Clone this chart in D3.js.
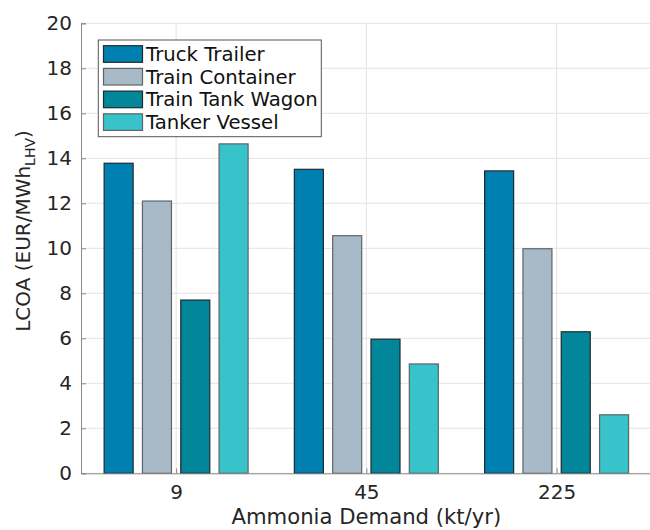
<!DOCTYPE html>
<html>
<head>
<meta charset="utf-8">
<script src="https://cdn.jsdelivr.net/npm/d3@7"></script>
<style>
  html, body { margin: 0; padding: 0; background: #fff; }
  svg { display: block; font-family: "DejaVu Sans", sans-serif; }
</style>
</head>
<body>
<svg id="chart" width="650" height="530"></svg>
<script>
const categories = ["9", "45", "225"];
const seriesNames = ["Truck Trailer", "Train Container", "Train Tank Wagon", "Tanker Vessel"];
const truckTrailer = [13.78, 13.51, 13.44];
const trainContainer = [12.1, 10.56, 9.98];
const trainTankWagon = [7.7, 5.96, 6.29];
const tankerVessel = [14.64, 4.86, 2.6];
const yTicks = [0, 2, 4, 6, 8, 10, 12, 14, 16, 18, 20];

const seriesValues = [truckTrailer, trainContainer, trainTankWagon, tankerVessel];
const fills = ["#0080B0", "#A8BAC8", "#02879A", "#38C2CA"];
const edges = ["#1e2a30", "#5f6468", "#1e2a30", "#5f6468"];

const svg = d3.select("#chart");
const pLeft = 81, pTop = 23.3, pBottom = 473.3, pRight = 651.7;

const x = d3.scaleLinear().domain([0.5, 3.5]).range([pLeft, pRight]);
const y = d3.scaleLinear().domain([0, 20]).range([pBottom, pTop]);

// grid
const g = svg.append("g");
g.selectAll("line.hg").data(yTicks).enter().append("line")
  .attr("x1", pLeft).attr("x2", pRight)
  .attr("y1", d => y(d)).attr("y2", d => y(d))
  .attr("stroke", "#e3e3e3").attr("stroke-width", 1);
g.selectAll("line.vg").data(categories).enter().append("line")
  .attr("x1", (d, i) => x(i + 1)).attr("x2", (d, i) => x(i + 1))
  .attr("y1", pTop).attr("y2", pBottom)
  .attr("stroke", "#e3e3e3").attr("stroke-width", 1);

// bars
const step = 0.2014;  // bar spacing within group, x units
const barW = 0.1525;  // bar width, x units
const bw = x(barW) - x(0);
seriesValues.forEach((vals, s) => {
  svg.append("g").selectAll("rect").data(vals).enter().append("rect")
    .attr("x", (d, i) => x(i + 1 + (s - 1.5) * step) - bw / 2)
    .attr("width", bw)
    .attr("y", d => y(d))
    .attr("height", d => y(0) - y(d))
    .attr("fill", fills[s])
    .attr("stroke", edges[s])
    .attr("stroke-width", 1.2);
});

// axes
const yAxis = d3.axisLeft(y).tickValues(yTicks).tickSize(-5).tickPadding(9).tickFormat(d3.format("d"));
const ya = svg.append("g").attr("transform", `translate(${pLeft},0)`).call(yAxis);
ya.select(".domain").attr("stroke", "#8a8a8a");
ya.selectAll(".tick line").attr("stroke", "#8a8a8a");
ya.selectAll(".tick text").attr("fill", "#262626").style("font-size", "20px")
  .style("font-family", "DejaVu Sans, sans-serif");

const xAxis = d3.axisBottom(x).tickValues([1, 2, 3]).tickSize(-5).tickPadding(12)
  .tickFormat((d) => categories[d - 1]);
const xa = svg.append("g").attr("transform", `translate(0,${pBottom})`).call(xAxis);
xa.select(".domain").attr("stroke", "#8a8a8a");
xa.selectAll(".tick line").attr("stroke", "#8a8a8a");
xa.selectAll(".tick text").attr("fill", "#262626").style("font-size", "20px")
  .style("font-family", "DejaVu Sans, sans-serif");

// axis labels
svg.append("text")
  .attr("x", (x(1) + x(3)) / 2).attr("y", 524)
  .attr("text-anchor", "middle").attr("fill", "#262626")
  .style("font-size", "21.2px").text("Ammonia Demand (kt/yr)");

const yl = svg.append("text")
  .attr("transform", "translate(30,231) rotate(-90)")
  .attr("text-anchor", "middle").attr("fill", "#262626")
  .style("font-size", "20px");
yl.append("tspan").text("LCOA (EUR/MWh");
yl.append("tspan").attr("dy", 5).style("font-size", "14px").text("LHV");
yl.append("tspan").attr("dy", -5).text(")");

// legend
const lg = svg.append("g");
lg.append("rect").attr("x", 98.3).attr("y", 40).attr("width", 223).attr("height", 96.7)
  .attr("fill", "#fff").attr("stroke", "#555").attr("stroke-width", 1);
seriesNames.forEach((name, i) => {
  const cy = 54 + i * 22.7;
  lg.append("rect").attr("x", 103.5).attr("y", cy - 8.3).attr("width", 39).attr("height", 16.6)
    .attr("fill", fills[i]).attr("stroke", edges[i]).attr("stroke-width", 1.2);
  lg.append("text").attr("x", 146).attr("y", cy + 7)
    .attr("fill", "#111").style("font-size", "19.7px").text(name);
});
</script>
</body>
</html>
